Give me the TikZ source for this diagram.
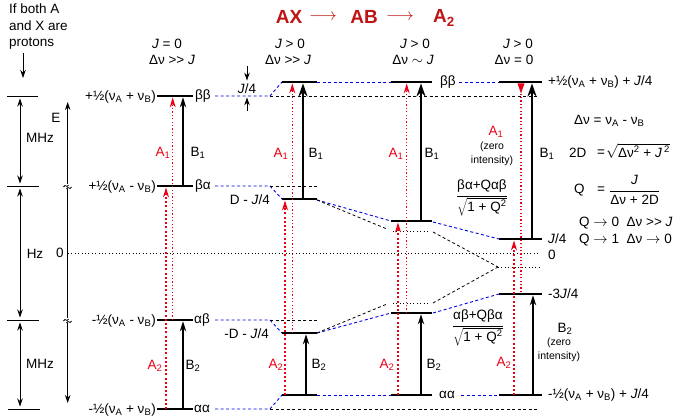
\documentclass[tikz,border=0pt]{standalone}
\usepackage{fontspec}
\setmainfont{Liberation Sans}
\usetikzlibrary{arrows.meta}
\definecolor{myred}{RGB}{235,0,20}
\definecolor{myblue}{RGB}{0,0,230}
\definecolor{titlered}{RGB}{190,20,20}
\newcommand{\nuA}{ν\textsubscript{A}}
\newcommand{\nuB}{ν\textsubscript{B}}
\newcommand{\mygg}{>{}>}
\begin{document}
\begin{tikzpicture}[x=1pt,y=-1pt, font=\fontsize{13.5}{16}\selectfont,
  lev/.style={line width=2.8pt},
  bdash/.style={myblue, line width=0.9pt, dash pattern=on 3pt off 2.5pt},
  kdash/.style={black, line width=0.8pt, dash pattern=on 3pt off 2.5pt},
  kdot/.style={black, line width=0.9pt, dash pattern=on 1pt off 2.4pt},
  redA/.style={myred, line width=1.1pt, dash pattern=on 1.2pt off 2.2pt},
  redB/.style={myred, line width=2.2pt, dash pattern=on 2pt off 2.2pt},
  redtip/.style={-{Stealth[length=10pt,width=6pt]}},
  thinarr/.style={line width=1.2pt, -{Stealth[length=10pt,width=6.5pt]}},
  thickarr/.style={line width=2.6pt, -{Stealth[length=13pt,width=9pt]}},
  dim/.style={line width=0.9pt, {Stealth[length=8pt,width=5.5pt]}-{Stealth[length=8pt,width=5.5pt]}},
  lab/.style={inner sep=0pt},
  redlab/.style={inner sep=0pt, text=myred},
  small/.style={inner sep=0pt, font=\fontsize{10.5}{14}\selectfont, align=center}
  ]
\useasboundingbox (0,0) rectangle (686,418);

% ---------- title and headers ----------
\node[lab, text=titlered, font=\fontsize{19}{22}\selectfont\bfseries] (tAX) at (289,17) {AX};
\node[lab, text=titlered, font=\fontsize{17}{20}\selectfont] (tar1) at (323,17) {$\longrightarrow$};
\node[lab, text=titlered, font=\fontsize{19}{22}\selectfont\bfseries] (tAB) at (364,17) {AB};
\node[lab, text=titlered, font=\fontsize{17}{20}\selectfont] (tar2) at (400,17) {$\longrightarrow$};
\node[lab, text=titlered, font=\fontsize{19}{22}\selectfont\bfseries] (tA2) at (444,18) {A\textsubscript{2}};

\node[lab] (h1a) at (167,44) {\textit{J} = 0};
\node[lab] (h1b) at (172,60) {Δν \mygg{} \textit{J}};
\node[lab] (h2a) at (290,44) {\textit{J} > 0};
\node[lab] (h2b) at (288,60) {Δν \mygg{} \textit{J}};
\node[lab] (h3a) at (415,44) {\textit{J} > 0};
\node[lab] (h3b) at (413,60) {Δν \raisebox{0pt}[0.5ex][0pt]{$\sim$} \textit{J}};
\node[lab] (h4a) at (518,44) {\textit{J} > 0};
\node[lab] (h4b) at (514,60) {Δν = 0};

% ---------- left scale ----------
\node[lab, anchor=north west, align=left, font=\fontsize{13.5}{16.5}\selectfont] (note) at (9,4) {If both A\\and X are\\protons};
\coordinate (na1) at (23,53);
\coordinate (na2) at (23,78);
\draw[line width=0.9pt, -{Stealth[length=8pt,width=5.5pt]}] (na1) -- (na2);

\coordinate (t1a) at (7,96);  \coordinate (t1b) at (38,96);
\coordinate (t2a) at (7,186); \coordinate (t2b) at (39,186);
\coordinate (t3a) at (7,320); \coordinate (t3b) at (39,320);
\coordinate (t4a) at (8,409); \coordinate (t4b) at (40,409);
\draw[line width=0.9pt] (t1a) -- (t1b) (t2a) -- (t2b) (t3a) -- (t3b) (t4a) -- (t4b);

\draw[dim] (20,98.5) -- (20,183.5);
\draw[dim] (20,188.5) -- (20,317.5);
\draw[dim] (20,322.5) -- (20,406.5);
\node[lab] (mhz1) at (40,138) {MHz};
\node[lab] (hz) at (35,254) {Hz};
\node[lab] (mhz2) at (40,364) {MHz};

\draw[dim] (67.7,102) -- (67.7,403);
\node[lab] (E) at (56,118) {E};
\foreach \yy in {186,320}{
  \fill[white] (64,183.5) ++(0,\yy-186) rectangle ++(8,5.5);
  \draw[line width=0.8pt] (63.5,\yy+1) .. controls (65.5,\yy-3) and (66.5,\yy+3) .. (68.5,\yy-1);
  \draw[line width=0.8pt] (66.5,\yy+3) .. controls (68.5,\yy-1) and (69.5,\yy+5) .. (71.5,\yy+1);
}
\node[lab] (zero) at (60,253) {0};
\draw[kdot] (68,253) -- (539,253);

% ---------- dashed correlation lines ----------
\draw[bdash] (215,96) -- (270,96) -- (282,82);
\draw[kdash] (270,96) -- (539,96);
\draw[bdash] (317,82) -- (391,82);
\draw[bdash] (459,82) -- (499,82);

\draw[bdash] (215,186) -- (270,186) -- (282,199);
\draw[kdash] (270,186) -- (317,186);
\draw[bdash] (317,200) -- (391,221);
\draw[kdash] (317,200) -- (387,229);
\draw[kdot] (393,231) -- (430,231);
\draw[kdash] (433,232) -- (498,267);
\draw[bdash] (433,222) -- (499,239);
\draw[kdot] (498,267) -- (539,267);

\draw[bdash] (215,320) -- (270,320) -- (282,333);
\draw[kdash] (270,320) -- (317,320);
\draw[bdash] (317,333) -- (391,313);
\draw[kdash] (317,333) -- (387,304);
\draw[kdot] (393,303) -- (430,303);
\draw[kdash] (433,303) -- (498,267);
\draw[bdash] (433,313) -- (499,294);

\draw[bdash] (215,409) -- (270,409) -- (282,395);
\draw[kdash] (270,409) -- (538,409);
\draw[bdash] (317,395) -- (391,395);
\draw[bdash] (461,395) -- (499,395);

% ---------- column 1 (AX, J = 0) ----------
\draw[lev] (157,96) -- (193,96);
\draw[lev] (157,186) -- (193,186);
\draw[lev] (157,320) -- (193,320);
\draw[lev] (157,409) -- (193,409);
\draw[redA, redtip] (172.7,320) -- (172.7,97.4);
\draw[redB, redtip] (166,409) -- (166,187.4);
\draw[thinarr] (183,186) -- (183,97.4);
\draw[thinarr] (183,409) -- (183,321.4);
\node[lab, anchor=east] (l1) at (156,97) {+½(\nuA{} + \nuB)};
\node[lab, anchor=east] (l2) at (156,187) {+½(\nuA{} - \nuB)};
\node[lab, anchor=east] (l3) at (156,321) {-½(\nuA{} - \nuB)};
\node[lab, anchor=east] (l4) at (156,410) {-½(\nuA{} + \nuB)};
\node[lab, anchor=west] (r1) at (195,96) {ββ};
\node[lab, anchor=west] (r2) at (195,186) {βα};
\node[lab, anchor=west] (r3) at (194,320) {αβ};
\node[lab, anchor=west] (r4) at (194,409) {αα};
\node[redlab] (c1A1) at (163,153) {A\textsubscript{1}};
\node[lab] (c1B1) at (198,153) {B\textsubscript{1}};
\node[redlab] (c1A2) at (155,366) {A\textsubscript{2}};
\node[lab] (c1B2) at (193,366) {B\textsubscript{2}};

% ---------- column 2 ----------
\draw[lev] (282,82) -- (317,82);
\draw[lev] (282,199) -- (317,199);
\draw[lev] (282,333) -- (317,333);
\draw[lev] (282,395) -- (317,395);
\draw[redA, redtip] (292.3,333) -- (292.3,83.4);
\draw[thickarr] (303,199) -- (303,83.4);
\draw[redB, redtip] (285,395) -- (285,200.4);
\draw[thinarr] (306,395) -- (306,334.4);
\draw[line width=0.9pt, -{Stealth[length=8pt,width=5.5pt]}] (247,66) -- (247,80.6);
\draw[line width=0.9pt, -{Stealth[length=8pt,width=5.5pt]}] (247,111) -- (247,97.4);
\node[lab] (j4) at (247,89) {\textit{J}/4};
\node[lab, anchor=east] (d1) at (270,200) {D - \textit{J}/4};
\node[lab, anchor=east] (d2) at (269,334) {-D - \textit{J}/4};
\node[redlab] (c2A1) at (281,154) {A\textsubscript{1}};
\node[lab] (c2B1) at (316,154) {B\textsubscript{1}};
\node[redlab] (c2A2) at (276,365) {A\textsubscript{2}};
\node[lab] (c2B2) at (319,365) {B\textsubscript{2}};

% ---------- column 3 ----------
\draw[lev] (391,82) -- (432,82);
\draw[lev] (391,221) -- (432,221);
\draw[lev] (391,313) -- (432,313);
\draw[lev] (391,395) -- (432,395);
\draw[redA, redtip] (406.7,313) -- (406.7,83.4);
\draw[thickarr] (421,221) -- (421,83.4);
\draw[redB, redtip] (398,395) -- (398,222.4);
\draw[thinarr] (421,395) -- (421,314.4);
\node[lab, anchor=west] (c3bb) at (440,82) {ββ};
\node[lab, anchor=west] (c3aa) at (439,395) {αα};
\node[redlab] (c3A1) at (396,154) {A\textsubscript{1}};
\node[lab] (c3B1) at (432,154) {B\textsubscript{1}};
\node[redlab] (c3A2) at (387,365) {A\textsubscript{2}};
\node[lab] (c3B2) at (434,365) {B\textsubscript{2}};
\node[lab] (f1) at (482,198) {$\displaystyle\frac{\mbox{βα+Qαβ}}{\sqrt{\mbox{1 + Q\textsuperscript{2}}}}$};
\node[lab] (f2) at (478,328) {$\displaystyle\frac{\mbox{αβ+Qβα}}{\sqrt{\mbox{1 + Q\textsuperscript{2}}}}$};

% ---------- column 4 ----------
\draw[lev] (499,82) -- (542,82);
\draw[lev] (499,239) -- (542,239);
\draw[lev] (499,294) -- (542,294);
\draw[lev] (499,395) -- (542,395);
\draw[redA] (521,292) -- (521,92);
\fill[myred] (517.5,83.4) -- (524.5,83.4) -- (521,93.5) -- cycle;
\draw[thickarr] (532,239) -- (532,83.4);
\draw[redB, redtip] (514,395) -- (514,240.4);
\draw[thinarr] (533,395) -- (533,295.4);
\node[redlab] (c4A1) at (496,132) {A\textsubscript{1}};
\node[small] (c4z1) at (492,154) {(zero\\intensity)};
\node[lab] (c4B1) at (547,154) {B\textsubscript{1}};
\node[redlab] (c4A2) at (504,363) {A\textsubscript{2}};
\node[lab] (c4B2) at (565,329) {B\textsubscript{2}};
\node[small] (c4z2) at (559,350) {(zero\\intensity)};
\node[lab, anchor=west] (e1) at (548,82) {+½(\nuA{} + \nuB) + \textit{J}/4};
\node[lab, anchor=west] (e2) at (548,239) {\textit{J}/4};
\node[lab, anchor=west] (e3) at (548,255) {0};
\node[lab, anchor=west] (e4) at (548,294) {-3\textit{J}/4};
\node[lab, anchor=west] (e5) at (548,395) {-½(\nuA{} + \nuB) + \textit{J}/4};

% ---------- definitions ----------
\node[lab, anchor=west] (dn) at (574,121) {Δν = \nuA{} - \nuB};
\node[lab, anchor=west] (twoD) at (569,153) {2D};
\node[lab] (eq1) at (601,153) {=};
\node[lab, anchor=west] (sq) at (606,151) {$\sqrt{\mbox{Δν\textsuperscript{2} + \textit{J}\,\textsuperscript{2}}}$};
\node[lab, anchor=west] (Q) at (574,190) {Q};
\node[lab] (eq2) at (601,190) {=};
\node[lab, anchor=west] (qf) at (609,190) {$\displaystyle\frac{\mbox{\textit{J}}}{\mbox{Δν + 2D}}$};
\node[lab, anchor=west] (q0) at (579,223) {Q $\rightarrow$ 0 \ Δν \mygg{} \textit{J}};
\node[lab, anchor=west] (q1) at (579,240) {Q $\rightarrow$ 1 \ Δν $\rightarrow$ 0};
\end{tikzpicture}
\end{document}
